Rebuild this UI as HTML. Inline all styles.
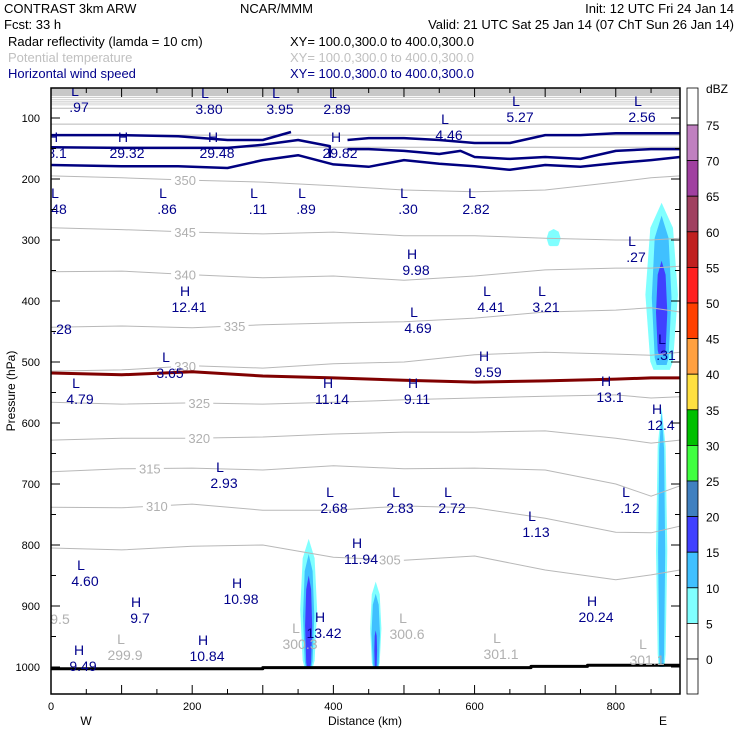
<!DOCTYPE html>
<html><head><meta charset="utf-8"><style>
html,body{margin:0;padding:0;background:#fff;}
svg{display:block;font-family:"Liberation Sans",sans-serif;}
</style></head><body>
<svg id="chart" width="740" height="740" viewBox="0 0 740 740" xmlns="http://www.w3.org/2000/svg">
<g font-size="13">
<text x="4" y="13">CONTRAST  3km ARW</text>
<text x="240" y="13">NCAR/MMM</text>
<text x="734" y="13" text-anchor="end">Init: 12 UTC Fri 24 Jan 14</text>
<text x="4" y="29">Fcst:   33 h</text>
<text x="734" y="29" text-anchor="end">Valid: 21 UTC Sat 25 Jan 14 (07 ChT Sun 26 Jan 14)</text>
<text x="8" y="46">Radar reflectivity (lamda = 10 cm)</text>
<text x="290" y="46">XY= 100.0,300.0 to 400.0,300.0</text>
<text x="8" y="62" fill="#c0c0c0">Potential temperature</text>
<text x="290" y="62" fill="#c0c0c0">XY= 100.0,300.0 to 400.0,300.0</text>
<text x="8" y="78" fill="#00008b">Horizontal wind speed</text>
<text x="290" y="78" fill="#00008b">XY= 100.0,300.0 to 400.0,300.0</text>
</g>
<g id="plot"></g>
<g id="axes"></g>
<g id="cbar"></g>
</svg>
<script>
// ---- data ----
const thetaD = [0,100,200,300,400,500,600,700,800,850,891];
const thetaLevels = [350,345,340,335,330,325,320,315,310,305];
const theta350 = [195,198,202,205,211,218,221,218,205,198,195];
const theta345 = [280,283,287,290,287,293,293,297,300,300,297];
const theta340 = [352,351,357,362,359,366,359,349,346,346,343];
const theta335 = [443,441,444,439,436,434,428,418,415,411,418];
const theta330 = [515,513,506,510,503,500,488,484,487,489,484];
const theta325 = [566,569,567,569,566,562,559,556,554,559,557];
const theta320 = [628,625,625,623,618,615,615,613,625,633,628];
const theta315 = [680,675,674,677,670,675,674,677,700,720,703];
const theta310 = [738,739,733,743,743,736,739,756,779,780,769];
const theta305 = [805,808,802,800,820,825,818,841,857,849,841];
const thetaUpperLevels = [355,360,365,370,375,380,385,390,395,400];
const thetaUpperP = [148,128,110,84,80,77,74,71,68,65];
const freezeP = [518,521,516,523,526,530,533,531,528,526,526];
const windAD = [0,100,180,250,300,350,400,450,500,550,600,650,700,750,800,850,891];
const windAP = [177,179,179,182,169,161,176,180,169,175,179,185,177,180,174,169,164];
const windBD = [0,100,180,250,300,350,395,395];
const windBP = [148,149,149,149,144,136,146,165];
const windB2D = [420,450,500,550,580,600,650,700,750,800,850,891];
const windB2P = [151,151,154,159,154,164,167,164,167,154,151,151];
const windCD = [0,100,180,250,300,340];
const windCP = [128,128,130,136,136,123];
const windC2D = [420,450,500,550,600,650,700,750,800,850,891];
const windC2P = [136,133,133,136,141,141,128,128,125,125,125];
const cellD = [365,365,365,460,460,460,865,865,865,865,865,712];
const cellTop = [790,815,850,860,880,940,239,260,334,574,580,282];
const cellBot = [1000,1000,1000,1000,1000,1000,513,505,488,1000,1000,310];
const cellHW = [12,8,5,8,6,2,23,14,8,8,5,10];
const cellLvl = [5,10,15,5,10,15,5,10,15,5,10,5];
const groundD = [0,300,300,680,680,760,760,891];
const groundP = [1003,1003,1001,1001,999,999,997,997];
const xTicks = [0,200,400,600,800];
const yTicks = [100,200,300,400,500,600,700,800,900,1000];
const cbLevels = [75,70,65,60,55,50,45,40,35,30,25,20,15,10,5,0];
const cbColors = ["#c080c0","#a040a0","#a04060","#c02020","#ff2020","#ff4000","#ffa040","#ffe040","#00c000","#40ff40","#4080c0","#4040ff","#40c0ff","#80ffff","#ffffff"];
const labLetter = ["L","L","L","L","L","L","L","H","H","H","H","L","L","L","L","L","L","L","H","H","L","L","L","","L","L","H","L","H","H","H","H","L","L","L","L","L","L","H","L","H","H","H","H","H","H","L","L","L","L","L",""];
const labValue = [".97","3.80","3.95","2.89","4.46","5.27","2.56","8.1","29.32","29.48","29.82","48",".86",".11",".89",".30","2.82",".27","9.98","12.41","4.41","3.21","4.69",".28",".31","3.65","9.59","4.79","11.14","9.11","13.1","12.4","2.93","2.68","2.83","2.72",".12","1.13","11.94","4.60","10.98","9.7","20.24","13.42","9.49","10.84","299.9","300.3","300.6","301.1","301.1","9.5"];
const labX = [75,205,276,333,445,516,638,53,123,213,336,55,163,254,302,404,472,632,412,185,487,542,414,62,662,166,484,76,328,413,606,657,220,330,396,448,626,532,357,81,237,136,592,320,79,203,121,296,403,497,643,60];
const labY = [90,92,92,92,118,100,100,136,136,136,136,192,192,192,192,192,192,240,253,290,290,290,311,328,338,356,355,382,382,382,380,408,466,491,491,491,491,515,542,564,582,601,600,616,649,639,638,627,617,637,643,618];
const labGray = [46,47,48,49,50,51];

// ---- scales ----
const X0=51, X1=680, KM=891, Y0=88, Y1=694;
function xs(d){return X0+d*(X1-X0)/KM;}
function ys(p){return 118+(p-100)*0.61;}
const NS="http://www.w3.org/2000/svg";
function mk(tag,parent,attrs){const e=document.createElementNS(NS,tag);for(const k in attrs)e.setAttribute(k,attrs[k]);parent.appendChild(e);return e;}
const plot=document.getElementById('plot'), axes=document.getElementById('axes'), cb=document.getElementById('cbar');

const clip=mk('clipPath',plot,{id:'pc'});
mk('rect',clip,{x:X0,y:Y0,width:X1-X0,height:Y1-Y0});
const g=mk('g',plot,{'clip-path':'url(#pc)'});

const band=mk('rect',g,{x:X0,y:Y0,width:X1-X0,height:ys(thetaUpperP[4])-Y0,fill:'#c8c8c8'});



function line(ds,ps,stroke,w,name){
  const pts=ds.map((d,i)=>xs(d).toFixed(1)+','+ys(ps[i]).toFixed(1)).join(' ');
  const e=mk('polyline',g,{points:pts,fill:'none',stroke:stroke,'stroke-width':w,'stroke-linejoin':'round'});
  
  
  return e;
}
const cellColor={5:'#80ffff',10:'#40c0ff',15:'#4040ff'};
cellD.forEach((d,i)=>{
  const t=cellTop[i], b=cellBot[i], hw=cellHW[i];
  const m=t+(b-t)*0.55;
  const pts=[[d,t],[d+hw*0.7,t+(b-t)*0.15],[d+hw,m],[d+hw*0.7,b-(b-t)*0.05],[d+hw*0.5,b],[d-hw*0.5,b],[d-hw*0.7,b-(b-t)*0.05],[d-hw,m],[d-hw*0.7,t+(b-t)*0.15]];
  const e=mk('polygon',g,{points:pts.map(q=>xs(q[0]).toFixed(1)+','+ys(q[1]).toFixed(1)).join(' '),fill:cellColor[cellLvl[i]]});
  
  
});
thetaUpperLevels.forEach((lv,i)=>{
  const e=mk('line',g,{x1:X0,x2:X1,y1:ys(thetaUpperP[i]),y2:ys(thetaUpperP[i]),stroke:i>3?'#ffffff':'#b8b8b8','stroke-width':1});
  
  
});
const thetaArr=[theta350,theta345,theta340,theta335,theta330,theta325,theta320,theta315,theta310,theta305];
thetaArr.forEach((arr,i)=>line(thetaD,arr,'#b8b8b8',1,'theta-contour-'+thetaLevels[i]));
const tlX=[190,190,190,260,190,210,210,140,150,480];
thetaArr.forEach((arr,i)=>{
  const d=tlX[i]; let k=0; while(k<thetaD.length-2&&thetaD[k+1]<d)k++;
  const p=arr[k]+(arr[k+1]-arr[k])*(d-thetaD[k])/(thetaD[k+1]-thetaD[k]);
  mk('rect',g,{x:xs(d)-14,y:ys(p)-6,width:28,height:12,fill:'#fff'});
  const t=mk('text',g,{x:xs(d),y:ys(p)+5,'text-anchor':'middle','font-size':13,fill:'#b0b0b0'});
  t.textContent=thetaLevels[i];
  
  
});
line(thetaD,freezeP,'#800000',3,'freezing-level-line');
line(windAD,windAP,'#000080',2.5,'wind-contour');
line(windBD,windBP,'#000080',2.5,'wind-contour');
line(windB2D,windB2P,'#000080',2.5,'wind-contour');
line(windCD,windCP,'#000080',2.5,'wind-contour');
line(windC2D,windC2P,'#000080',2.5,'wind-contour');
line(groundD,groundP,'#000',3,'ground-line');
labLetter.forEach((L,i)=>{
  const col=labGray.includes(i)?'#b0b0b0':'#00008b';
  if(L){const t=mk('text',g,{x:labX[i],y:labY[i]+6,'text-anchor':'middle','font-size':14,fill:col});
    t.textContent=L;
    
    }
  const v=mk('text',g,{x:labX[i]+(L?4:0),y:labY[i]+(L?22:6),'text-anchor':'middle','font-size':14,fill:col});
  v.textContent=labValue[i];
  
  
});
const fr=mk('rect',axes,{x:X0,y:Y0,width:X1-X0,height:Y1-Y0,fill:'none',stroke:'#000','stroke-width':1.5});


for(let d=0;d<=KM;d+=50){
  const len=d%100===0?9:5;
  mk('line',axes,{x1:xs(d),x2:xs(d),y1:Y1,y2:Y1-len,stroke:'#000'});
  mk('line',axes,{x1:xs(d),x2:xs(d),y1:Y0,y2:Y0+len,stroke:'#000'});
}
for(let p=100;p<=1000;p+=50){
  const len=p%100===0?9:5;
  mk('line',axes,{x1:X0,x2:X0+len,y1:ys(p),y2:ys(p),stroke:'#000'});
  mk('line',axes,{x1:X1,x2:X1-len,y1:ys(p),y2:ys(p),stroke:'#000'});
}
xTicks.forEach(v=>{const t=mk('text',axes,{x:xs(v),y:710,'text-anchor':'middle','font-size':11});
  t.textContent=v;
  
  });
yTicks.forEach(v=>{const t=mk('text',axes,{x:40,y:ys(v)+4,'text-anchor':'end','font-size':11});
  t.textContent=v;
  
  });
let t=mk('text',axes,{x:365,y:725,'text-anchor':'middle','font-size':12});t.textContent='Distance (km)';


t=mk('text',axes,{x:86,y:725,'text-anchor':'middle','font-size':12});t.textContent='W';


t=mk('text',axes,{x:663,y:725,'text-anchor':'middle','font-size':12});t.textContent='E';


t=mk('text',axes,{x:15,y:391,'text-anchor':'middle','font-size':12,transform:'rotate(-90 15 391)'});t.textContent='Pressure (hPa)';


// colorbar
const CX=687,CW=11,cbTop=125,step=(659-125)/15;
function cy(i){return cbTop+i*step;}
mk('rect',cb,{x:CX,y:Y0,width:CW,height:cbTop-Y0,fill:'#fff',stroke:'#000','stroke-width':0.8});
cbColors.forEach((c,i)=>{const r=mk('rect',cb,{x:CX,y:cy(i),width:CW,height:step,fill:c,stroke:'#000','stroke-width':0.8});
  
  });
mk('rect',cb,{x:CX,y:659,width:CW,height:Y1-659,fill:'#fff',stroke:'#000','stroke-width':0.8});
cbLevels.forEach((v,i)=>{const tt=mk('text',cb,{x:706,y:cy(i)+5,'font-size':12});
  tt.textContent=v;
  
  });
t=mk('text',cb,{x:706,y:93,'font-size':12});t.textContent='dBZ';


</script>
</body></html>
